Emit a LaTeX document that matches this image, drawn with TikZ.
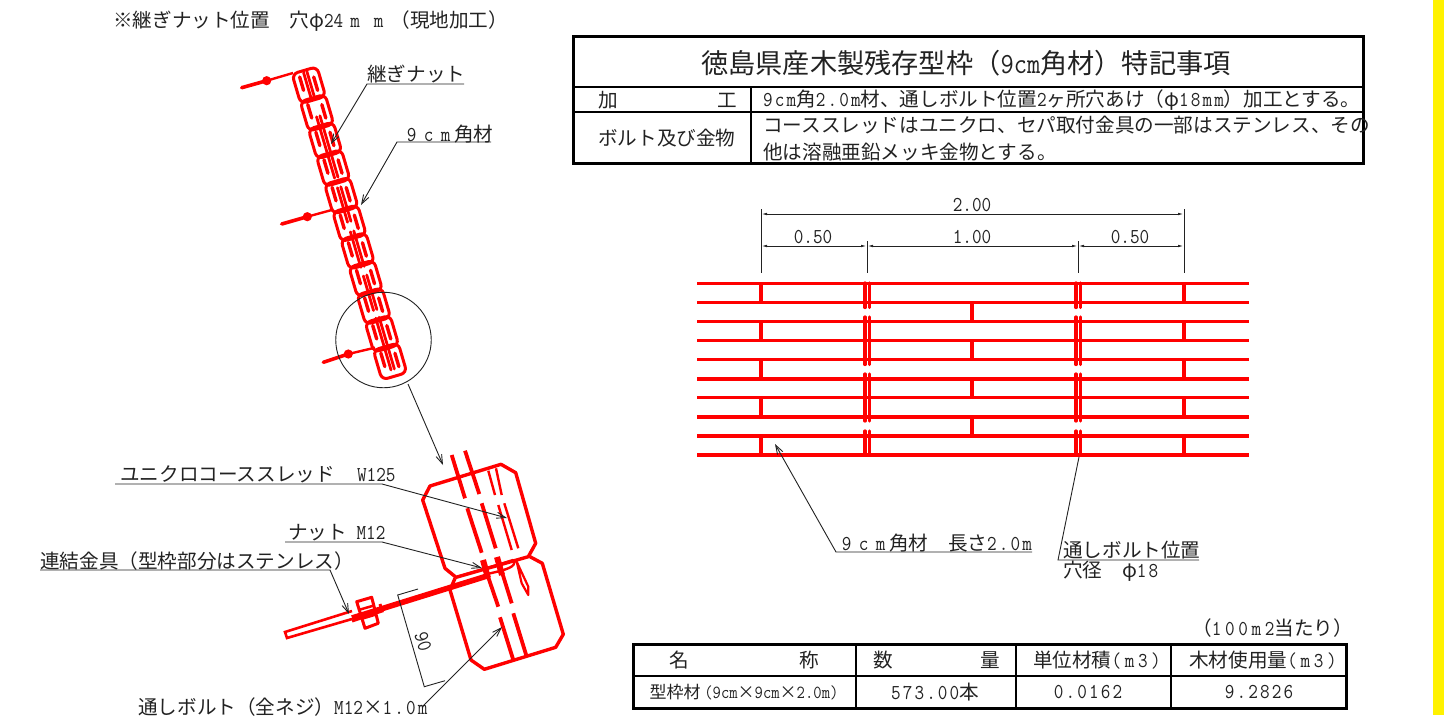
\documentclass[tikz,border=0pt]{standalone}
\usepackage{fontspec}
\setmainfont{Noto Sans CJK JP}
\newfontfamily\ltbase[FakeStretch=0.88]{Latin Modern Mono}
\newfontfamily\ltwa[FakeStretch=0.88,LetterSpace=10]{Latin Modern Mono}
\newfontfamily\ltwb[FakeStretch=0.88,LetterSpace=17]{Latin Modern Mono}
\usetikzlibrary{arrows.meta}
\definecolor{ink}{HTML}{222222}
\newcommand{\lt}[1]{{\ltbase\fontsize{21.2}{21}\selectfont #1}}
\newcommand{\ltS}[1]{{\ltbase\fontsize{18.4}{18}\selectfont #1}}
\newcommand{\ltA}[1]{{\ltwa\fontsize{21.2}{21}\selectfont #1}}
\newcommand{\ltB}[1]{{\ltwb\fontsize{21.2}{21}\selectfont #1}}
\newcommand{\fw}[1]{\makebox[17pt][c]{\lt{#1}}}
\newcommand{\fz}[1]{\makebox[23.6pt][c]{\lt{#1}}}
\tikzset{
  x=1pt,y=-1pt,
  txt/.style={inner sep=0pt,anchor=west,text=ink,font=\fontsize{19.6}{20}\selectfont},
  mid/.style={txt,anchor=center},
  frame/.style={draw=black,line width=3pt},
  rule/.style={draw=black,line width=1.5pt},
  thinl/.style={draw=ink,line width=0.9pt},
  lead/.style={draw=ink,line width=0.9pt,-{Straight Barb[length=9pt,width=6pt]}},
  dimtip/.style={draw=ink,line width=0.9pt,{Latex[length=6pt,width=2.5pt]}-{Latex[length=6pt,width=2.5pt]}},
  redl/.style={draw=red,line width=3.4pt},
  redm/.style={draw=red,line width=3.2pt},
  redt/.style={draw=red,line width=3.2pt,line cap=round},
}
\begin{document}
\begin{tikzpicture}
\useasboundingbox (0,0) rectangle (1456,715);
\fill[white] (0,0) rectangle (1456,715);
\fill[yellow] (1433,0) rectangle (1444,715);

% ---------- title table
\draw[frame] (573,36) rectangle (1363,163);
\draw[rule] (573,87) -- (1363,87);
\draw[rule] (573,112) -- (1363,112);
\draw[rule] (751,87) -- (751,163);
\node[mid,font=\fontsize{27.2}{28}\selectfont] (title) at (966,63) {徳島県産木製残存型枠（{\ltbase\fontsize{29.2}{28}\selectfont 9cm}角材）特記事項};
\node[txt] (ka) at (598,100) {加};
\node[txt] (ko) at (717,100) {工};
\node[txt] (bolt) at (598,138) {ボルト及び金物};
\node[txt] (r1) at (763,100) {\ltA{9cm}角\ltA{2.0m}材、通しボルト位置\ltA{2}ヶ所穴あけ（φ\ltA{18mm}）加工とする。};
\node[txt] (r2) at (763,125) {コーススレッドはユニクロ、セパ取付金具の一部はステンレス、その};
\node[txt] (r3) at (763,152) {他は溶融亜鉛メッキ金物とする。};

% ---------- dimensions
\coordinate (e1t) at (761,209); \coordinate (e1b) at (761,273);
\coordinate (e2t) at (867,241); \coordinate (e2b) at (867,273);
\coordinate (e3t) at (1078,241); \coordinate (e3b) at (1078,273);
\coordinate (e4t) at (1184,209); \coordinate (e4b) at (1184,273);
\draw[thinl] (e1t) -- (e1b);
\draw[thinl] (e2t) -- (e2b);
\draw[thinl] (e3t) -- (e3b);
\draw[thinl] (e4t) -- (e4b);
\draw[dimtip] (761,214) -- (1184,214);
\draw[dimtip] (761,246) -- (867,246);
\draw[dimtip] (867,246) -- (1078,246);
\draw[dimtip] (1078,246) -- (1184,246);
\node[mid] (d200) at (972,205) {\lt{2.00}};
\node[mid] (d050a) at (813,237) {\lt{0.50}};
\node[mid] (d100) at (972,237) {\lt{1.00}};
\node[mid] (d050b) at (1130,237) {\lt{0.50}};

% ---------- red elevation
\foreach \y in {283.3,302.7,321.7,340.7,359.7,379,397.7,417,436,455}
  \draw[redl] (697,\y) -- (1249,\y);
\foreach \a/\b in {283.3/302.7,321.7/340.7,359.7/379,397.7/417,436/455}{
  \draw[redm] (761,\a) -- (761,\b);
  \draw[redm] (1184,\a) -- (1184,\b);
}
\foreach \a/\b in {302.7/321.7,340.7/359.7,379/397.7,417/436}
  \draw[redm] (972,\a) -- (972,\b);
\foreach \a/\b in {283/307.5,317/364.5,374/421,431/455}{
  \draw[redt] (865,\a) -- (865,\b);
  \draw[redt] (869.5,\a) -- (869.5,\b);
  \draw[redt] (1076,\a) -- (1076,\b);
  \draw[redt] (1080.5,\a) -- (1080.5,\b);
}

% ---------- elevation leaders
\node[txt] (lenlab) at (838,543) {\fw{9}\fw{c}\fw{m}角材　長さ\ltA{2.0m}};
\coordinate (lenA) at (1032,552); \coordinate (lenB) at (836,552); \coordinate (lenC) at (775,444);
\draw[lead] (lenA) -- (lenB) -- (lenC);
\node[txt] (holeA) at (1063,550) {通しボルト位置};
\node[txt] (holeB) at (1063,571) {穴径　φ\ltA{18}};
\coordinate (hA) at (1199,560); \coordinate (hB) at (1058,560); \coordinate (hC) at (1079,457);
\draw[thinl] (hA) -- (hB) -- (hC);

% ---------- bottom table
\node[txt,anchor=east] (per) at (1353,628) {（\ltB{100m2}当たり）};
\draw[frame] (633,644) rectangle (1346,708);
\draw[rule] (633,676) -- (1346,676);
\foreach \x in {856,1016,1171} \draw[rule] (\x,644) -- (\x,708);
\node[mid] (h1) at (679,660) {名};
\node[mid] (h2) at (809,660) {称};
\node[mid] (h3) at (883,660) {数};
\node[mid] (h4) at (990,660) {量};
\node[mid] (h5) at (1097,660) {単位材積\ltB{(m3)}};
\node[mid] (h6) at (1263,660) {木材使用量\ltB{(m3)}};
\node[mid,font=\fontsize{17}{18}\selectfont] (c1) at (744,692) {型枠材 \ltS{(9cm}×\ltS{9cm}×\ltS{2.0m)}};
\node[mid] (c2) at (935,692) {\ltA{573.00}本};
\node[mid] (c3) at (1088,692) {\ltA{0.0162}};
\node[mid] (c4) at (1259,692) {\ltA{9.2826}};

% ---------- column section
\begin{scope}[shift={(292,74)},x={(0.959pt,0.282pt)},y={(0.282pt,-0.959pt)}]
  \foreach \i in {0,...,10}{
    \pgfmathsetmacro{\v}{\i*28.8}
    \pgfmathsetmacro{\w}{\v+31}
    \draw[red,line width=3pt,rounded corners=6pt] (0,\v) -- (26,\v) -- (26,\w) -- (0,\w) -- cycle;
    \pgfmathsetmacro{\pa}{\v+5}\pgfmathsetmacro{\pb}{\v+19}
    \pgfmathsetmacro{\qa}{\v+9}\pgfmathsetmacro{\qb}{\v+23}
    \draw[redt,line width=3.4pt] (6.5,\pa) -- (6.5,\pb);
    \draw[redt,line width=3.4pt] (20,\qa) -- (20,\qb);
  }
  \foreach \a/\b in {2/28,48/112,122/158,168/205,214/250,258/312}{
    \draw[redt,line width=2.8pt] (11.5,\a) -- (11.5,\b);
    \draw[redt,line width=2.8pt] (15,\a) -- (15,\b);
  }
\end{scope}
\foreach \ax/\ay/\bx/\by/\cx/\cy in {241.7/87.7/266.7/80.7/293/73, 281.7/224/307.3/216.7/331.7/210, 323.3/362.3/348.3/354/375/347.7}{
  \draw[red,line width=3.6pt,line cap=round] (\ax,\ay) -- (\bx,\by);
  \draw[red,line width=2.4pt] (\bx,\by) -- (\cx,\cy);
  \fill[red] (\bx,\by) circle (4.6);
}
\node[txt] (tsugi) at (367,74) {継ぎナット};
\coordinate (tsA) at (464,84); \coordinate (tsB) at (367,84); \coordinate (tsC) at (331,144);
\draw[lead] (tsA) -- (tsB) -- (tsC);
\node[txt] (kaku) at (403,134) {\fw{9}\fw{c}\fw{m}角材};
\coordinate (kaA) at (491,142); \coordinate (kaB) at (397,142); \coordinate (kaC) at (361,205);
\draw[lead] (kaA) -- (kaB) -- (kaC);
\node[txt] (note) at (113,21) {※継ぎナット位置　穴φ\lt{24}\fz{m}\fz{m}（現地加工）};
\node[draw=ink,line width=0.9pt,circle,minimum size=95.5pt,inner sep=0pt] (zoomc) at (383.5,340) {};
\coordinate (za) at (408,384); \coordinate (zb) at (443,465);
\draw[lead] (za) -- (zb);

% ---------- detail
\draw[redl,line join=round] (430,486) -- (422.7,500) -- (445,568.3) -- (456,577.3) -- (528.3,556.7) -- (535.7,543.3) -- (515.7,472.7) -- (501,464.3) -- cycle;
\draw[redl,line join=round] (455,578.3) -- (450,590) -- (471,660) -- (484.3,669.3) -- (555.7,647.3) -- (563.3,634.3) -- (542.3,563.3) -- (530,556.7);
\foreach \ax/\ay/\bx/\by in {451.7/455/465/498.3, 465/450.7/479.3/494, 467.3/508.3/481.7/552.7, 481.7/503.3/495.7/548.3, 483.3/562.7/498.3/606.7, 497.7/558.3/511.7/603.3, 500/617.3/513.3/660, 513.3/613.3/526.7/656.7}
  \draw[red,line width=3.8pt] (\ax,\ay) -- (\bx,\by);
\foreach \ax/\ay/\bx/\by in {488.3/470.7/495/495, 496/468.3/501.7/495, 498.3/505/511.7/550, 504.3/503.3/518.3/548.3}
  \draw[red,line width=2.4pt] (\ax,\ay) -- (\bx,\by);
% link and hook
\draw[red,line width=2.6pt] (352,611) -- (285,632) -- (287,638) -- (352,619);
\draw[red,line width=5.6pt] (352,618) -- (487,576);
\draw[red,line width=2.4pt] (456.7,577) -- (513.3,560) (515,561) .. controls (514,567) and (510,569) .. (487,574);
\draw[red,line width=2.2pt,line join=round] (516.7,561.7) -- (528.3,586.7) -- (528.3,595) -- (521.7,583.3) -- cycle;
\draw[red,line width=3pt,line join=round] (356.7,601.7) -- (371.7,597.3) -- (378.3,623.3) -- (365,628.3) -- cycle;
\draw[red,line width=2.5pt] (358.5,610) -- (374,605.5) (361,619) -- (376,614.5);
\draw[red,line width=3pt] (352,621) -- (382,611) -- (380,604);
\draw[red,line width=6pt] (483,560) -- (488,578);
\draw[red,line width=6pt] (497,557) -- (502,575);
% labels of detail
\node[txt] (uni) at (120,474) {ユニクロコーススレッド\hspace{3pt}\lt{\ \ W125}};
\coordinate (uA) at (115,484); \coordinate (uB) at (382,484); \coordinate (uC) at (507,518);
\draw[lead] (uA) -- (uB) -- (uC);
\node[txt] (nut) at (288,533) {ナット\lt{ M12}};
\coordinate (nA) at (285,542); \coordinate (nB) at (382,542); \coordinate (nC) at (482,568);
\draw[lead] (nA) -- (nB) -- (nC);
\node[txt] (ren) at (40,561) {連結金具（型枠部分はステンレス）};
\coordinate (rA) at (40,570); \coordinate (rB) at (330,570); \coordinate (rC) at (349,614);
\draw[lead] (rA) -- (rB) -- (rC);
\node[txt] (tou) at (138,707) {通しボルト（全ネジ）\lt{M12}×\ltA{1.0m}};
\coordinate (tA) at (422,707); \coordinate (tC) at (502,627);
\draw[lead] (tA) -- (tC);
\coordinate (d1) at (418,589); \coordinate (d2) at (397.7,595); \coordinate (d3) at (424.3,686.7); \coordinate (d4) at (445,680.7);
\draw[thinl] (d1) -- (d2) -- (d3) -- (d4);
\node[mid,rotate=-73] (ninety) at (423,642) {\lt{90}};
\end{tikzpicture}
\end{document}
